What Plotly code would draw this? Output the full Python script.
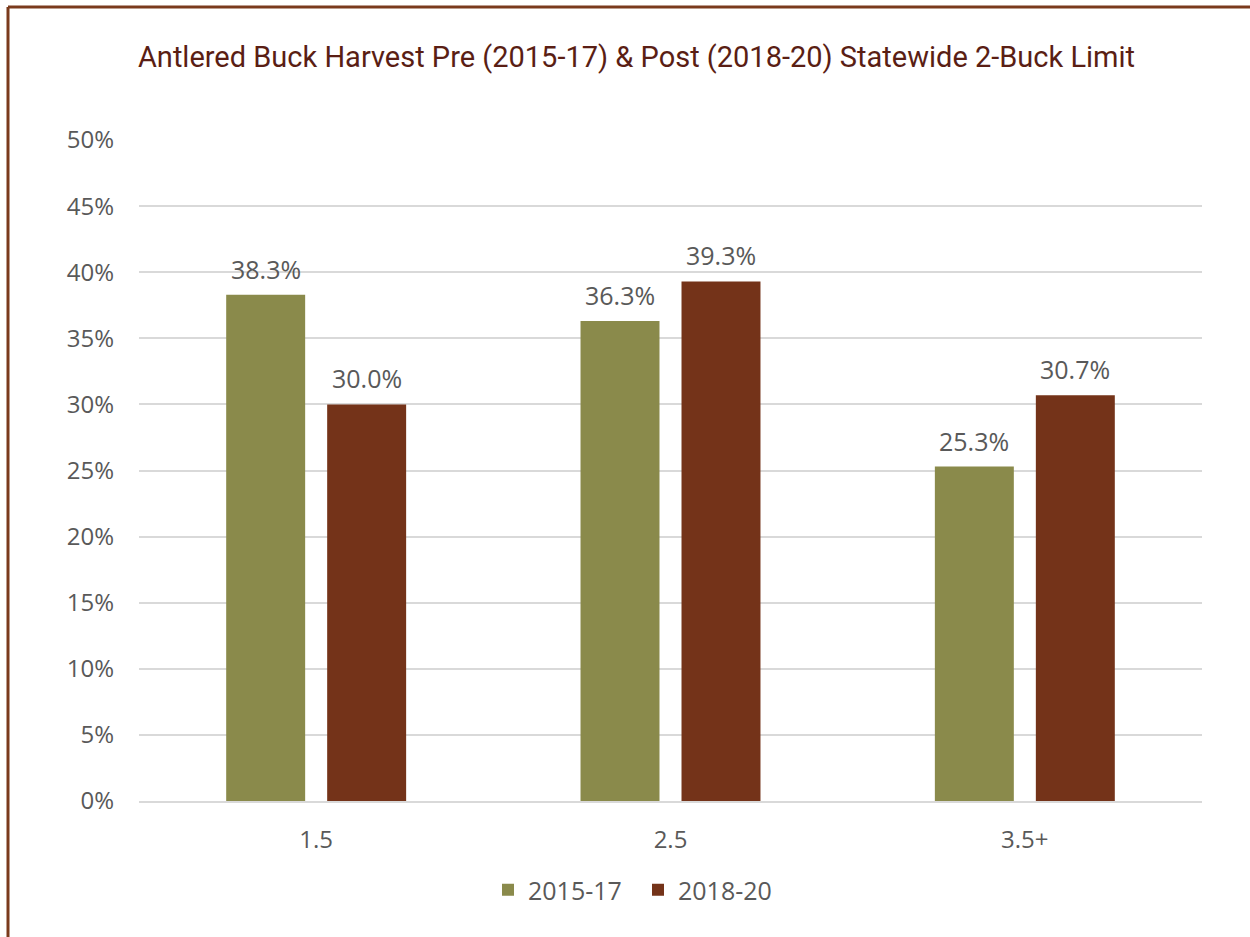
import plotly.graph_objects as go

categories = ["1.5", "2.5", "3.5+"]
series_names = ["2015-17", "2018-20"]
pre_values = [38.3, 36.3, 25.3]
post_values = [30.0, 39.3, 30.7]
y_ticks = [0, 5, 10, 15, 20, 25, 30, 35, 40, 45, 50]
y_tick_labels = [f"{v}%" for v in y_ticks]
title_text = "Antlered Buck Harvest Pre (2015-17) & Post (2018-20) Statewide 2-Buck Limit"

W, H = 1250, 937
L, R, T, B = 139, 48, 140, 136
PW, PH = W - L - R, H - T - B
BARGAP, GROUPGAP = 0.43, 0.218
colors = ["#8A8A4B", "#743319"]
txt = "#595959"
font_main = "'Open Sans', Lato, sans-serif"


def px_x(px):
    return (px - L) / PW


def px_y(py):
    return (H - B - py) / PH


fig = go.Figure()
for name, vals, c in zip(series_names, [pre_values, post_values], colors):
    fig.add_trace(go.Bar(
        x=categories, y=vals, name=name, marker=dict(color=c, line=dict(width=0)),
        hoverinfo="x+y",
    ))

# value labels above bars (offset to each bar's slot within its group)
slot = PW / len(categories) * (1 - BARGAP) / len(series_names)
for i, vals in enumerate([pre_values, post_values]):
    shift = (i - (len(series_names) - 1) / 2) * slot
    for ci, v in enumerate(vals):
        fig.add_annotation(x=ci, y=v, xref="x", yref="y", text=f"{v:.1f}%",
                           showarrow=False, xshift=shift, yshift=26, yanchor="middle",
                           font=dict(size=25, color=txt, family=font_main))

fig.update_layout(
    width=W, height=H,
    margin=dict(l=L, r=R, t=T, b=B, autoexpand=False),
    paper_bgcolor="white", plot_bgcolor="white",
    barmode="group", bargap=BARGAP, bargroupgap=GROUPGAP,
    title=dict(text=title_text, x=636.5 / W, xref="container", xanchor="center",
               y=1 - 57 / H, yref="container", yanchor="middle",
               font=dict(family="Roboto, sans-serif", size=29, color="#5A1E14")),
    xaxis=dict(type="category", range=[-0.5, len(categories) - 0.5],
               showgrid=False, showline=True, automargin=False,
               linecolor="#D9D9D9", linewidth=1.5, ticks="", ticklabelstandoff=16,
               tickfont=dict(size=24, color=txt, family=font_main)),
    yaxis=dict(range=[0, 50], automargin=False,
               tickvals=y_ticks, ticktext=y_tick_labels, showgrid=True,
               gridcolor="#D9D9D9", gridwidth=1.5, zeroline=False, ticks="",
               ticklabelstandoff=24,
               tickfont=dict(size=24, color=txt, family=font_main)),
    legend=dict(orientation="h", x=638 / W, xref="container", xanchor="center",
                y=1 - 890 / H, yref="container", yanchor="middle",
                font=dict(size=25, color=txt, family=font_main),
                entrywidth=105, entrywidthmode="pixels",
                traceorder="normal"),
    showlegend=True,
)

border = "#7A3A1C"
fig.add_shape(type="line", xref="paper", yref="paper", x0=px_x(8), x1=px_x(W + 5),
              y0=px_y(7), y1=px_y(7), line=dict(color=border, width=3))
fig.add_shape(type="line", xref="paper", yref="paper", x0=px_x(8), x1=px_x(8),
              y0=px_y(H + 5), y1=px_y(7), line=dict(color=border, width=3))

fig.write_html("out.html", config={"displayModeBar": False},
               post_script="document.body.style.margin='0';")
